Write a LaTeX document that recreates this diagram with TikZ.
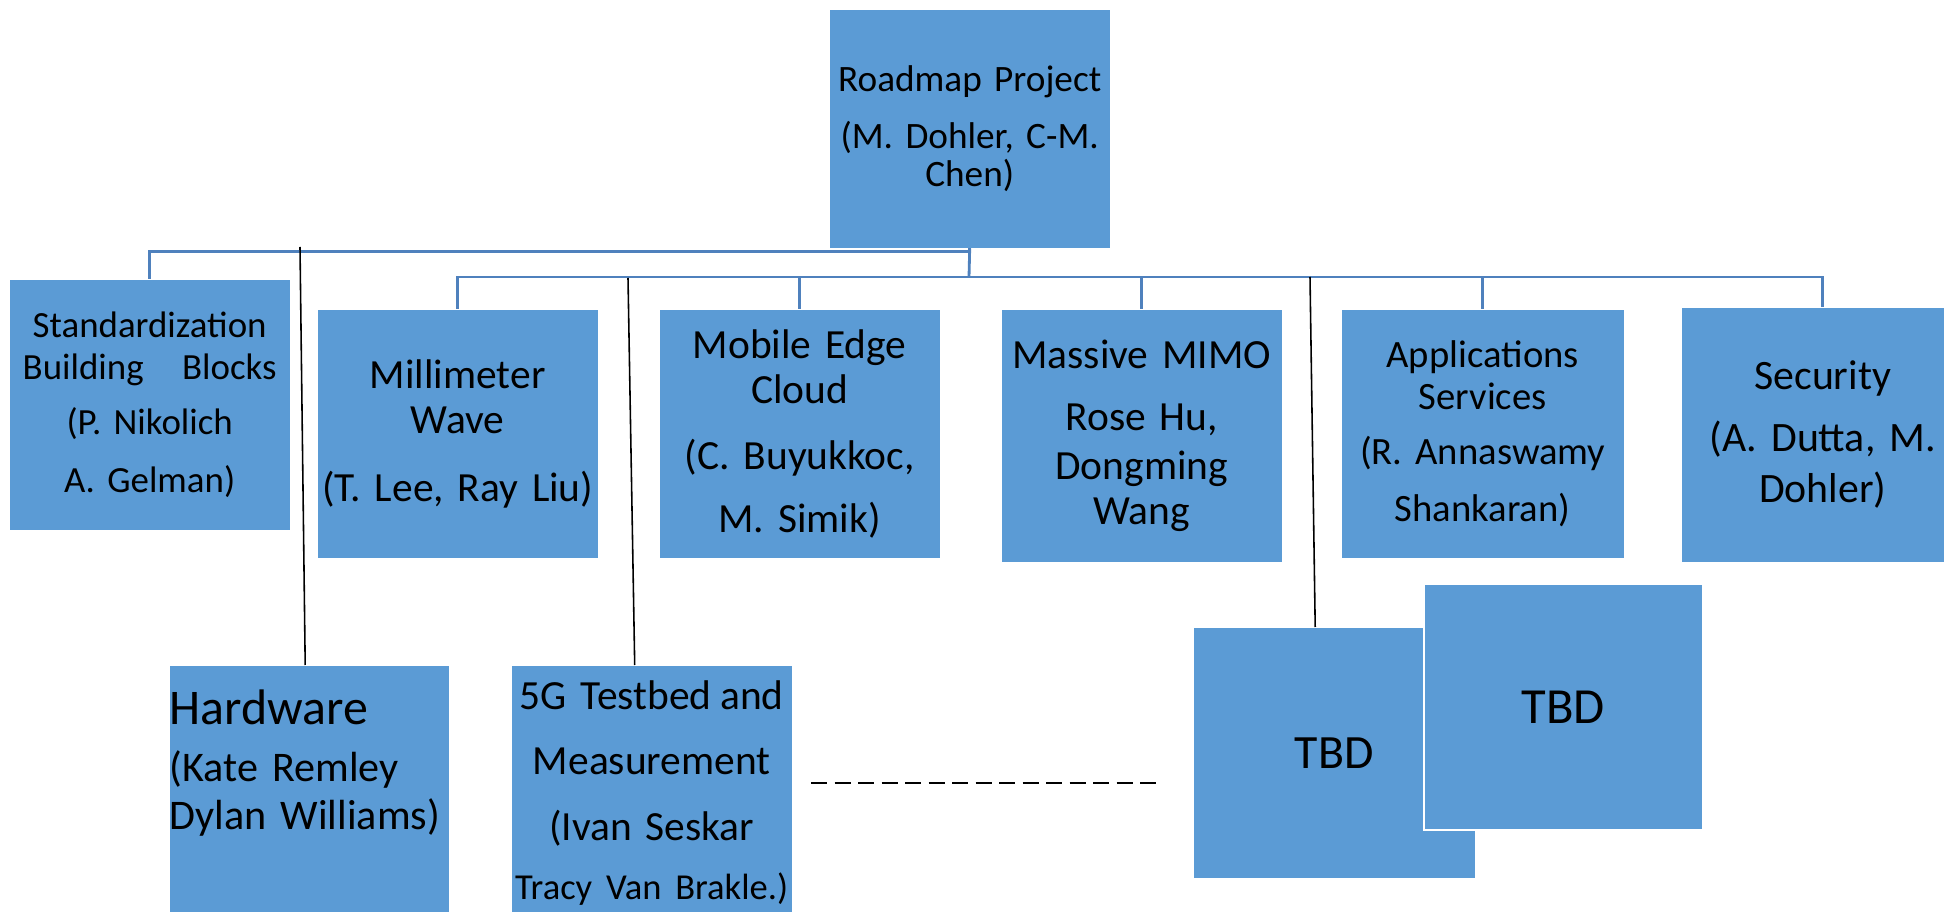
\documentclass[tikz,border=0pt]{standalone}
\usepackage{fontspec}
\setmainfont{Carlito}
\usepackage{tikz}
\definecolor{boxblue}{HTML}{5B9BD5}
\definecolor{linkblue}{HTML}{4F81BD}
\tikzstyle{box}=[rectangle, fill=boxblue, inner sep=0pt, anchor=north west, align=center, text=black]
\tikzstyle{bus}=[draw=linkblue, line width=0.8pt]
\tikzstyle{tap}=[draw=black, line width=0.45pt]

\begin{document}
\begin{tikzpicture}[x=0.1mm, y=-0.1mm]
\clip (0,0) rectangle (1944,912);
\node [box, minimum width=28mm, text width=28mm, minimum height=23.8mm, font=\fontsize{10.6}{10.8}\selectfont] (root) at (829,9) {Roadmap Project\\[5.4pt](M. Dohler, C-M.\\Chen)};

\node [box, minimum width=28mm, text width=28mm, minimum height=25mm, font=\fontsize{10.5}{12.2}\selectfont] (std) at (9,279) {Standardization\\ \makebox[25.4mm][s]{Building\hfill Blocks}\\[3.4pt](P. Nikolich\\[4.3pt]A. Gelman)};
\node [box, minimum width=28mm, text width=28mm, minimum height=24.8mm, font=\fontsize{11.8}{12.8}\selectfont] (mmw) at (317,309) {Millimeter\\Wave\\[6.5pt](T. Lee, Ray Liu)};
\node [box, minimum width=28mm, text width=28mm, minimum height=24.8mm, font=\fontsize{11.8}{12.8}\selectfont] (mec) at (659,309) {Mobile Edge\\Cloud\\[6pt](C. Buyukkoc,\\[5.1pt]M. Simik)};
\node [box, minimum width=28mm, text width=28mm, minimum height=25.2mm, font=\fontsize{11.8}{12.8}\selectfont] (mimo) at (1001,309) {Massive MIMO\\[5.1pt]Rose Hu,\\[1.1pt]Dongming\\Wang};
\node [box, minimum width=28.2mm, text width=28.2mm, minimum height=24.8mm, font=\fontsize{11}{11.9}\selectfont] (app) at (1341,309) {Applications\\Services\\[3.7pt](R. Annaswamy\\[4.3pt]Shankaran)};
\node [box, minimum width=28.2mm, text width=28.2mm, minimum height=25.4mm, font=\fontsize{11.9}{12.8}\selectfont] (sec) at (1681,307) {Security\\[4.8pt](A. Dutta, M.\\[1.7pt]Dohler)};

\node [box, align=left, minimum width=27.9mm, text width=27.9mm, minimum height=26mm, font=\fontsize{12}{13.7}\selectfont] (hw) at (169,665) {{\fontsize{14.2}{14.5}\selectfont Hardware}\\[2.5pt](Kate Remley\\Dylan Williams)\\[6.8pt]\mbox{}};
\node [box, minimum width=28mm, text width=28mm, minimum height=25.5mm, font=\fontsize{11.8}{16.8}\selectfont] (tb) at (511,665) {\makebox[26.4mm][s]{5G Testbed\hfill and}\\[1.7pt]Measurement\\[2pt](Ivan Seskar\\{\fontsize{10.4}{10.6}\selectfont Tracy Van Brakle.)}};
\node [box, minimum width=28.1mm, text width=28.1mm, minimum height=25mm, font=\fontsize{13.6}{14}\selectfont] (tbdA) at (1193,627) {TBD};
\node [box, draw=white, line width=0.5pt, minimum width=27.9mm, text width=27.9mm, minimum height=24.6mm, font=\fontsize{14.4}{15}\selectfont] (tbdB) at (1423,583) {TBD};

\coordinate (split) at (969,277);
\draw [bus] (root.south) -- ++(0,3) -| (std.north);
\draw [bus] (root.south) -- (split);
\foreach \n in {mmw,mec,mimo,app,sec}
  \draw [bus] (split) -| (\n.north);

\coordinate (hwtap) at (300,247);
\coordinate (tbtap) at (628,278);
\coordinate (tbdtap) at (1310,277);
\draw [tap] (hwtap) -- ([xshift=-0.4mm]hw.north);
\draw [tap] (tbtap) -- ([xshift=-1.7mm]tb.north);
\draw [tap] (tbdtap) -- ([xshift=-1.9mm]tbdA.north);

\coordinate (dashA) at (811,783);
\coordinate (dashB) at (1157,783);
\draw [dash pattern=on 1.6mm off 0.75mm, line width=0.7pt] (dashA) -- (dashB);
\end{tikzpicture}
\end{document}
